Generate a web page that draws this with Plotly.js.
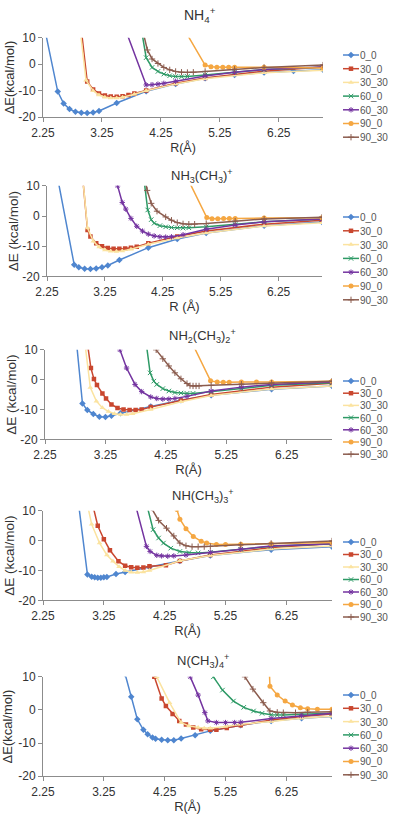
<!DOCTYPE html>
<html>
<head>
<meta charset="utf-8">
<script src="https://cdn.plot.ly/plotly-3.0.1.min.js"></script>
<style>
  html, body { margin: 0; padding: 0; background: #ffffff; }
  #chart { width: 400px; height: 822px; }
</style>
</head>
<body>
<div id="chart"></div>
<script>
// ---------------- DATA ----------------
const SERIES_NAMES = ['0_0', '30_0', '30_30', '60_0', '60_30', '90_0', '90_30'];
const PANEL_TITLES = [
  'NH<sub>4</sub><sup>+</sup>',
  'NH<sub>3</sub>(CH<sub>3</sub>)<sup>+</sup>',
  'NH<sub>2</sub>(CH<sub>3</sub>)<sub>2</sub><sup>+</sup>',
  'NH(CH<sub>3</sub>)<sub>3</sub><sup>+</sup>',
  'N(CH<sub>3</sub>)<sub>4</sub><sup>+</sup>'
];
const Y_TITLES = ['ΔE(kcal/mol)', 'ΔE (kcal/mol)', 'ΔE (kcal/mol)', 'ΔE (kcal/mol)', 'ΔE(kcal/mol)'];
const X_TITLES = ['R(Å)', 'R (Å)', 'R(Å)', 'R(Å)', 'R(Å)'];
const X_TICKS = [2.25, 3.25, 4.25, 5.25, 6.25];
const X_TICK_LABELS = ['2.25', '3.25', '4.25', '5.25', '6.25'];
const Y_TICKS = [-20, -10, 0, 10];
const Y_TICK_LABELS = ['-20', '-10', '0', '10'];

// Panel 1: NH4+
const R1_00   = [2.25, 2.5, 2.6, 2.7, 2.8, 2.9, 3.0, 3.1, 3.2, 3.5, 4.0, 4.5, 5.0, 5.5, 6.0, 6.5, 7.0];
const E1_00   = [16.5, -10.3, -14.8, -16.9, -17.9, -18.3, -18.4, -18.2, -17.6, -14.6, -10.2, -7.4, -5.3, -4.0, -3.1, -2.5, -2.1];
const R1_300  = [2.9, 3.0, 3.1, 3.2, 3.3, 3.4, 3.5, 3.6, 3.7, 3.8, 4.0, 4.5, 5.0, 6.0, 7.0];
const E1_300  = [13, -6.5, -9.5, -11.0, -11.8, -12.2, -12.3, -12.1, -11.6, -11.0, -9.9, -7.2, -5.2, -2.6, -1.0];
const R1_3030 = [2.88, 2.98, 3.1, 3.2, 3.3, 3.4, 3.5, 3.6, 3.8, 4.0, 4.5, 5.0, 6.0, 7.0];
const E1_3030 = [13, -6.0, -10.0, -11.6, -12.4, -12.7, -12.7, -12.4, -11.3, -10.0, -7.4, -5.5, -3.2, -2.3];
const R1_600  = [3.92, 4.0, 4.1, 4.2, 4.3, 4.4, 4.5, 4.6, 4.7, 5.0, 5.5, 6.0, 7.0];
const E1_600  = [13, 2.5, -1.2, -2.7, -3.7, -4.3, -4.6, -4.7, -4.6, -4.0, -2.9, -2.0, -1.1];
const R1_6030 = [3.6, 4.0, 4.1, 4.2, 4.3, 4.5, 5.0, 5.5, 6.0, 7.0];
const E1_6030 = [16, -7.8, -7.7, -7.5, -7.2, -6.4, -4.4, -3.0, -2.0, -1.0];
const R1_900  = [4.5, 5.0, 5.1, 5.2, 5.3, 5.4, 5.5, 6.0, 7.0];
const E1_900  = [18.7, -0.3, -0.9, -1.1, -1.1, -1.1, -1.1, -1.1, -1.4];
const R1_9030 = [3.95, 4.02, 4.1, 4.2, 4.3, 4.4, 4.5, 4.6, 4.7, 4.8, 5.0, 5.5, 6.0, 7.0];
const E1_9030 = [12, 5.4, 2.0, 0.3, -1.2, -2.1, -2.7, -3.0, -3.1, -3.0, -2.7, -1.9, -1.2, -0.3];

// Panel 2: NH3(CH3)+
const R2_00   = [2.4, 2.72, 2.8, 2.9, 3.0, 3.1, 3.2, 3.3, 3.5, 4.0, 4.5, 5.0, 6.0, 7.0];
const E2_00   = [16, -16.2, -17.0, -17.5, -17.6, -17.4, -17.0, -16.4, -14.6, -10.5, -7.6, -5.6, -3.2, -2.0];
const R2_300  = [2.85, 2.95, 3.0, 3.1, 3.2, 3.3, 3.4, 3.5, 3.6, 3.7, 3.8, 4.0, 4.5, 5.0, 6.0, 7.0];
const E2_300  = [16, -4.6, -6.8, -9.0, -10.0, -10.6, -10.9, -10.9, -10.8, -10.5, -10.2, -9.0, -6.8, -5.0, -2.7, -1.4];
const R2_3030 = [2.85, 2.95, 3.05, 3.15, 3.25, 3.35, 3.45, 3.55, 3.7, 4.0, 4.5, 5.0, 6.0, 7.0];
const E2_3030 = [16, -4.0, -8.4, -10.3, -11.3, -11.7, -11.8, -11.6, -11.0, -9.4, -7.3, -5.6, -3.3, -2.2];
const R2_600  = [3.9, 3.99, 4.05, 4.1, 4.2, 4.3, 4.4, 4.5, 4.6, 4.7, 5.0, 5.5, 6.0, 7.0];
const E2_600  = [16, 2.0, -1.2, -2.4, -3.2, -3.6, -3.8, -3.9, -4.0, -3.9, -3.6, -2.8, -1.9, -1.0];
const R2_6030 = [3.47, 3.55, 3.61, 3.7, 3.8, 3.9, 4.0, 4.1, 4.2, 4.3, 4.4, 4.6, 5.0, 5.5, 6.0, 7.0];
const E2_6030 = [10, 4.5, 2.3, -0.8, -3.4, -5.0, -6.0, -6.6, -6.9, -7.0, -6.9, -6.2, -4.4, -3.0, -1.9, -1.0];
const R2_900  = [4.5, 5.01, 5.1, 5.2, 5.3, 5.4, 5.5, 6.0, 7.0];
const E2_900  = [19.4, -0.5, -0.9, -0.9, -0.8, -0.8, -0.8, -0.7, -0.6];
const R2_9030 = [3.93, 3.98, 4.05, 4.15, 4.3, 4.4, 4.5, 4.6, 4.7, 4.8, 5.0, 5.5, 6.0, 7.0];
const E2_9030 = [14, 8.5, 4.2, 1.6, -0.3, -1.4, -2.2, -2.6, -2.7, -2.7, -2.5, -1.7, -1.0, -0.4];

// Panel 3: NH2(CH3)2+
const R3_00   = [2.75, 2.87, 2.95, 3.05, 3.15, 3.25, 3.35, 3.5, 4.0, 4.5, 5.0, 6.0, 7.0];
const E3_00   = [17, -8.0, -10.2, -11.5, -12.4, -12.5, -12.1, -11.3, -9.0, -6.9, -5.2, -3.2, -2.1];
const R3_300  = [2.96, 3.01, 3.06, 3.11, 3.2, 3.26, 3.35, 3.45, 3.55, 3.65, 3.75, 3.85, 4.0, 4.5, 5.0, 6.0, 7.0];
const E3_300  = [11, 3.9, 0.2, -1.8, -4.6, -6.3, -8.3, -9.5, -10.0, -10.2, -10.2, -10.0, -9.2, -7.0, -5.0, -2.5, -1.2];
const R3_3030 = [2.9, 3.0, 3.1, 3.2, 3.3, 3.4, 3.5, 3.6, 3.7, 4.0, 4.5, 5.0, 6.0, 7.0];
const E3_3030 = [14, -2.6, -7.2, -9.4, -10.7, -11.4, -11.7, -11.7, -11.4, -10.0, -7.4, -5.3, -3.1, -2.1];
const R3_600  = [3.92, 3.99, 4.05, 4.1, 4.2, 4.3, 4.4, 4.5, 4.6, 4.7, 5.0, 5.5, 6.0, 7.0];
const E3_600  = [13, 2.3, -0.5, -1.6, -3.0, -3.8, -4.3, -4.5, -4.6, -4.6, -4.0, -2.9, -1.9, -1.0];
const R3_6030 = [3.49, 3.6, 3.74, 3.85, 4.0, 4.1, 4.2, 4.3, 4.4, 4.6, 5.0, 5.5, 6.0, 7.0];
const E3_6030 = [10, 3.9, -1.6, -4.0, -5.8, -6.3, -6.5, -6.5, -6.3, -5.6, -3.8, -2.5, -1.6, -0.8];
const R3_900  = [4.5, 4.99, 5.1, 5.2, 5.3, 5.5, 5.75, 6.0, 7.0];
const E3_900  = [20, -0.4, -0.8, -0.9, -0.9, -0.8, -0.8, -0.8, -0.5];
const R3_9030 = [4.09, 4.2, 4.3, 4.4, 4.5, 4.6, 4.65, 4.7, 4.75, 4.8, 5.0, 5.5, 6.0, 7.0];
const E3_9030 = [10, 7.0, 4.6, 2.3, 0.3, -1.3, -2.0, -2.1, -2.1, -2.1, -1.9, -1.5, -1.1, -0.5];

// Panel 4: NH(CH3)3+
const R4_00   = [2.8, 2.98, 3.05, 3.1, 3.15, 3.2, 3.25, 3.3, 3.45, 3.6, 4.0, 4.5, 5.0, 6.0, 7.0];
const E4_00   = [18, -11.3, -12.1, -12.3, -12.4, -12.4, -12.3, -12.2, -11.2, -10.5, -8.8, -6.8, -5.0, -3.0, -2.0];
const R4_300  = [3.05, 3.15, 3.25, 3.35, 3.49, 3.6, 3.7, 3.8, 3.9, 4.0, 4.27, 4.5, 5.0, 6.0, 7.0];
const E4_300  = [13.5, 5.0, 0.5, -3.2, -6.9, -8.4, -8.9, -9.1, -9.0, -8.6, -8.2, -6.8, -4.8, -2.3, -1.0];
const R4_3030 = [2.95, 3.05, 3.18, 3.3, 3.4, 3.5, 3.6, 3.7, 3.8, 3.9, 4.0, 4.5, 5.0, 6.0, 7.0];
const E4_3030 = [15, 5.5, -0.8, -4.8, -6.9, -8.7, -10.0, -10.6, -10.7, -10.5, -10.0, -6.7, -5.0, -2.8, -1.8];
const R4_600  = [3.95, 4.06, 4.15, 4.23, 4.35, 4.5, 4.65, 4.8, 5.0, 5.5, 6.0, 7.0];
const E4_600  = [12.5, 3.7, 0.9, -0.8, -2.5, -3.6, -4.0, -4.1, -3.9, -2.9, -1.9, -1.0];
const R4_6030 = [3.77, 3.95, 4.01, 4.12, 4.2, 4.3, 4.4, 4.6, 5.0, 5.5, 6.0, 7.0];
const E4_6030 = [12, -1.9, -3.6, -4.9, -5.1, -5.2, -5.1, -4.8, -3.9, -2.8, -1.8, -1.0];
const R4_900  = [4.45, 4.5, 4.6, 4.72, 4.85, 4.94, 5.1, 5.25, 5.5, 6.0, 7.0];
const E4_900  = [10.5, 7.2, 4.0, 1.4, -0.2, -0.8, -1.3, -1.3, -1.2, -1.0, -0.6];
const R4_9030 = [4.03, 4.15, 4.28, 4.4, 4.5, 4.6, 4.7, 4.8, 4.9, 5.0, 5.5, 6.0, 7.0];
const E4_9030 = [11, 6.8, 4.2, 1.6, -0.8, -1.7, -2.0, -2.0, -2.0, -1.9, -1.4, -0.9, -0.1];

// Panel 5: N(CH3)4+
const R5_00   = [3.6, 3.7, 3.8, 3.9, 3.97, 4.05, 4.1, 4.2, 4.3, 4.4, 4.52, 4.75, 5.0, 5.5, 6.0, 6.5, 7.0];
const E5_00   = [10.8, 4.0, -2.8, -6.0, -7.3, -8.3, -8.7, -9.0, -9.1, -9.1, -8.6, -7.6, -6.3, -4.6, -3.3, -2.5, -2.0];
const R5_300  = [4.08, 4.2, 4.27, 4.38, 4.49, 4.6, 4.72, 4.85, 5.0, 5.1, 5.27, 5.5, 6.0, 6.5, 7.0];
const E5_300  = [10, 3.5, 1.2, -1.2, -3.3, -4.4, -5.3, -5.8, -6.0, -6.0, -5.4, -4.6, -3.0, -2.0, -1.2];
const R5_3030 = [4.12, 4.33, 4.52, 4.65, 4.8, 4.9, 5.0, 5.25, 5.5, 6.0, 6.5, 7.0];
const E5_3030 = [10, 2.2, -3.8, -4.8, -5.3, -5.5, -5.5, -5.0, -4.3, -3.5, -2.5, -1.9];
const R5_600  = [5.05, 5.2, 5.38, 5.55, 5.71, 5.85, 6.0, 6.1, 6.2, 6.5, 7.0];
const E5_600  = [10, 6.0, 2.7, 0.8, -0.3, -1.0, -1.4, -1.5, -1.5, -1.3, -1.0];
const R5_6030 = [4.67, 4.8, 4.91, 4.96, 5.1, 5.25, 5.4, 5.5, 6.0, 6.5, 7.0];
const E5_6030 = [10, 4.5, -0.8, -3.3, -3.8, -3.8, -3.8, -3.7, -2.6, -1.7, -1.0];
const R5_900  = [5.97, 5.98, 6.1, 6.23, 6.35, 6.48, 6.6, 6.76, 7.0];
const E5_900  = [12, 7.2, 4.5, 2.7, 1.5, 0.7, 0.4, 0.2, 0.2];
const R5_9030 = [5.57, 5.7, 5.87, 5.98, 6.1, 6.2, 6.4, 6.6, 7.0];
const E5_9030 = [10, 6.3, 2.2, -0.3, -0.7, -0.8, -0.8, -0.7, -0.5];

// ---------------- STYLE ----------------
const COLORS  = ['#4f86cf', '#c9472f', '#fbe3a0', '#2e9a66', '#7434a0', '#f5a742', '#8b5c4e'];
const SYMBOLS = ['diamond', 'square', 'triangle-up', 'x-thin-open', 'asterisk-open', 'circle', 'cross-thin-open'];
const MSIZES  = [5, 4.5, 5, 4.5, 4.5, 5, 4.5];
const MLINES  = [0, 0, 0, 1, 1, 0, 1];

const PANELS = [
  { R: [R1_00, R1_300, R1_3030, R1_600, R1_6030, R1_900, R1_9030], E: [E1_00, E1_300, E1_3030, E1_600, E1_6030, E1_900, E1_9030] },
  { R: [R2_00, R2_300, R2_3030, R2_600, R2_6030, R2_900, R2_9030], E: [E2_00, E2_300, E2_3030, E2_600, E2_6030, E2_900, E2_9030] },
  { R: [R3_00, R3_300, R3_3030, R3_600, R3_6030, R3_900, R3_9030], E: [E3_00, E3_300, E3_3030, E3_600, E3_6030, E3_900, E3_9030] },
  { R: [R4_00, R4_300, R4_3030, R4_600, R4_6030, R4_900, R4_9030], E: [E4_00, E4_300, E4_3030, E4_600, E4_6030, E4_900, E4_9030] },
  { R: [R5_00, R5_300, R5_3030, R5_600, R5_6030, R5_900, R5_9030], E: [E5_00, E5_300, E5_3030, E5_600, E5_6030, E5_900, E5_9030] }
];

// pixel boxes of each plot area [left, right, top, bottom]
const W = 400, H = 822;
const BOXES = [
  [43, 323, 38, 118],
  [47, 322, 187, 278],
  [45, 332, 352, 442],
  [43, 332, 514, 604],
  [43, 332, 681, 781]
];
const TITLE_POS = [[200, 15, 14], [202, 177, 13], [203, 338, 13], [203, 499, 13], [203, 665, 13]];
const XSTAND = [0, 3, 2, 4, 2];
const XTFONT = [12.5, 13, 13, 13, 13];
const YSTAND = [0, 0, 0, 0, 2];
const YTFONT = [13, 13.5, 13.5, 13.5, 13];
// legend rows: first row centre (px) and row spacing (px)
const LEG_ROWS = [[55, 13.7], [217, 13.8], [381, 12.2], [542, 12.5], [695, 13.3]];

const FONT = 'Liberation Sans, Arial, sans-serif';
const data = [];
const layout = {
  width: W, height: H,
  margin: { l: 0, r: 0, t: 0, b: 0 },
  paper_bgcolor: '#ffffff', plot_bgcolor: '#ffffff',
  font: { family: FONT, color: '#333333', size: 12 },
  annotations: []
};

PANELS.forEach((p, k) => {
  const n = k === 0 ? '' : String(k + 1);
  const legId = 'legend' + n;
  const b = BOXES[k];
  SERIES_NAMES.forEach((name, s) => {
    data.push({
      type: 'scatter', mode: 'lines+markers',
      x: p.R[s], y: p.E[s], name: name,
      xaxis: 'x' + n, yaxis: 'y' + n, legend: legId,
      line: { color: COLORS[s], width: 1.5 },
      marker: { symbol: SYMBOLS[s], size: MSIZES[s], color: COLORS[s],
                line: { color: COLORS[s], width: MLINES[s] } },
      hoverinfo: 'skip'
    });
  });
  layout['xaxis' + n] = {
    domain: [b[0] / W, b[1] / W], anchor: 'y' + n,
    range: [2.25, 7.0], tickmode: 'array', tickvals: X_TICKS, ticktext: X_TICK_LABELS,
    showline: true, linecolor: '#8c8c8c', linewidth: 1,
    ticks: 'outside', ticklen: 4, tickcolor: '#8c8c8c', tickwidth: 1,
    showgrid: false, zeroline: false,
    tickfont: { size: 12, color: '#333333', family: FONT },
    title: { text: X_TITLES[k], font: { size: XTFONT[k], color: '#333333', family: FONT }, standoff: XSTAND[k] }
  };
  layout['yaxis' + n] = {
    domain: [1 - b[3] / H, 1 - b[2] / H], anchor: 'x' + n,
    range: [-20, 10], tickmode: 'array', tickvals: Y_TICKS, ticktext: Y_TICK_LABELS,
    showline: true, linecolor: '#8c8c8c', linewidth: 1,
    ticks: 'outside', ticklen: 4, tickcolor: '#8c8c8c', tickwidth: 1,
    showgrid: false, zeroline: false,
    tickfont: { size: 12, color: '#333333', family: FONT },
    title: { text: Y_TITLES[k], font: { size: YTFONT[k], color: '#333333', family: FONT }, standoff: YSTAND[k] }
  };
  layout[legId] = {
    x: 318 / W, xanchor: 'left', y: 1 - (b[2] + 2) / H, yanchor: 'top',
    bgcolor: 'rgba(0,0,0,0)', borderwidth: 0,
    font: { size: 10, color: '#555555', family: FONT },
    tracegroupgap: 0
  };
  const tp = TITLE_POS[k];
  layout.annotations.push({
    xref: 'paper', yref: 'paper', x: tp[0] / W, y: 1 - tp[1] / H,
    xanchor: 'center', yanchor: 'middle', showarrow: false,
    text: PANEL_TITLES[k], font: { size: tp[2], color: '#333333', family: FONT }
  });
});

const gd = document.getElementById('chart');

// compact the legend rows (the reference uses a tighter row pitch than Plotly's minimum).
// Text keeps Plotly's own x offset (40 px); the item is moved so that text starts at x=360,
// and the line sample / marker are shortened to sit just before it.
function tightenLegends() {
  const ids = ['legend', 'legend2', 'legend3', 'legend4', 'legend5'];
  const base = gd.getBoundingClientRect();
  ids.forEach((id, k) => {
    gd.querySelectorAll('g.' + id).forEach(lg => {
      lg.removeAttribute('clip-path');
      lg.querySelectorAll('[clip-path]').forEach(e => e.removeAttribute('clip-path'));
      const items = Array.from(lg.querySelectorAll('g.traces'));
      items.forEach((it, i) => {
        const pm = it.parentNode.getScreenCTM();
        const px = pm.e - base.left, py = pm.f - base.top;
        const yy = LEG_ROWS[k][0] + i * LEG_ROWS[k][1] - py;
        it.setAttribute('transform', 'translate(' + (320 - px) + ',' + yy + ')');
        it.querySelectorAll('path.js-line').forEach(pth => pth.setAttribute('d', 'M23,0h16'));
        it.querySelectorAll('path.scatterpts').forEach(pth => pth.setAttribute('transform', 'translate(31,0)'));
      });
    });
  });
}

Plotly.newPlot(gd, data, layout, { displayModeBar: false, staticPlot: true, responsive: false })
  .then(() => {
    tightenLegends();
    setTimeout(tightenLegends, 350);
    setTimeout(tightenLegends, 900);
  });
</script>
</body>
</html>
